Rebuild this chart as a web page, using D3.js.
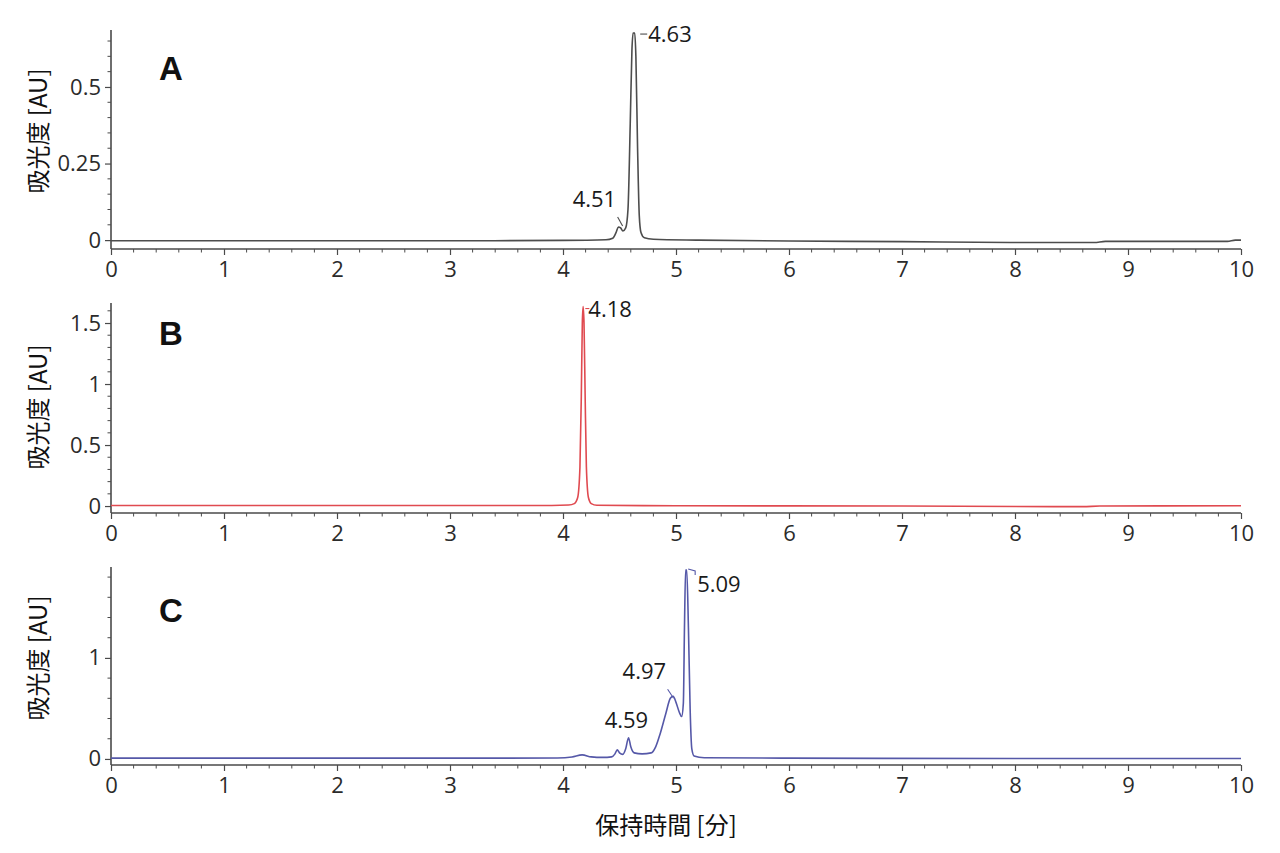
<!DOCTYPE html>
<html><head><meta charset="utf-8">
<script src="https://cdn.jsdelivr.net/npm/d3@7"></script>
<style>
html,body{margin:0;padding:0;background:#fff;}
svg{display:block;}
</style></head>
<body>
<svg id="chart" width="1280" height="853"></svg>
<script>
// ---- data (time in min, absorbance in AU) ----
const timeTicks = [0,1,2,3,4,5,6,7,8,9,10];

const traceA = [
  [0,-0.002],[1,-0.002],[2,-0.002],[3,-0.002],[4,-0.001],[4.38,0.001],[4.44,0.006],
  [4.47,0.025],[4.49,0.043],[4.51,0.04],[4.53,0.03],[4.555,0.04],[4.575,0.1],
  [4.595,0.38],[4.61,0.62],[4.62,0.676],[4.635,0.676],[4.645,0.6],[4.66,0.3],
  [4.675,0.08],[4.69,0.025],[4.72,0.008],[4.8,0.003],[5.2,0.0],[6,-0.003],[7,-0.005],
  [8,-0.008],[8.7,-0.008],[8.8,-0.004],[9.5,-0.004],[9.88,-0.004],[9.95,0.0],[10,0.0]
];
const traceB = [
  [0,0.004],[2,0.004],[3.9,0.005],[4.05,0.008],[4.1,0.02],[4.13,0.07],[4.15,0.32],
  [4.162,0.9],[4.171,1.5],[4.178,1.635],[4.186,1.5],[4.196,0.9],[4.207,0.32],
  [4.225,0.07],[4.25,0.02],[4.3,0.006],[5,0.003],[7,0.0],[8.6,-0.005],[8.75,0.0],
  [10,0.002]
];
const traceC = [
  [0,0.008],[2,0.008],[3.5,0.008],[3.95,0.01],[4.08,0.02],[4.17,0.04],[4.25,0.02],
  [4.35,0.015],[4.43,0.02],[4.46,0.05],[4.48,0.09],[4.5,0.06],[4.53,0.045],
  [4.555,0.1],[4.58,0.21],[4.6,0.12],[4.63,0.06],[4.7,0.05],[4.78,0.06],[4.82,0.12],
  [4.86,0.25],[4.91,0.45],[4.95,0.6],[4.975,0.62],[5.0,0.56],[5.03,0.46],[5.05,0.42],
  [5.065,0.55],[5.075,1.3],[5.085,1.87],[5.095,1.87],[5.11,1.3],[5.125,0.5],
  [5.14,0.1],[5.16,0.03],[5.25,0.012],[6,0.008],[8,0.005],[10,0.005]
];

const peakLabelsA = [{t:4.63,v:0.676,label:"4.63"},{t:4.51,v:0.043,label:"4.51"}];
const peakLabelsB = [{t:4.18,v:1.635,label:"4.18"}];
const peakLabelsC = [{t:5.09,v:1.87,label:"5.09"},{t:4.97,v:0.62,label:"4.97"},{t:4.59,v:0.21,label:"4.59"}];

const yTicksA = [0,0.25,0.5], yMinorA = 0.05;
const yTicksB = [0,0.5,1,1.5], yMinorB = 0.1;
const yTicksC = [0,1], yMinorC = 0.2;

const panelNames = ["A","B","C"];
const yTitle = "吸光度 [AU]";
const xTitle = "保持時間 [分]";

// ---- layout ----
const svg = d3.select("#chart");
const X0 = 111, X1 = 1241;
const x = d3.scaleLinear().domain([0,10]).range([X0,X1]);
const numFont = "'Open Sans', 'Noto Sans', sans-serif";
const cjkFont = "'Noto Sans CJK JP', 'Noto Sans', sans-serif";

const panels = [
  {name:"A", data:traceA, color:"#4d4d4d", top:30, bottom:249, dom:[-0.029,0.686], ticks:yTicksA, minor:yMinorA,
   fmt:d=>String(d), titleY:131, letterY:80, labels:peakLabelsA},
  {name:"B", data:traceB, color:"#e04a50", top:303, bottom:513, dom:[-0.057,1.664], ticks:yTicksB, minor:yMinorB,
   fmt:d=>String(d), titleY:407, letterY:345, labels:peakLabelsB},
  {name:"C", data:traceC, color:"#5558a8", top:567, bottom:765, dom:[-0.06,1.9], ticks:yTicksC, minor:yMinorC,
   fmt:d=>String(d), titleY:658, letterY:622, labels:peakLabelsC}
];

const axisColor = "#4a4a4a";
const textColor = "#2b2b2b";
const tickFontSize = "22px";

panels.forEach((p,i)=>{
  const y = d3.scaleLinear().domain(p.dom).range([p.bottom,p.top]);
  const g = svg.append("g");

  // minor y ticks
  const minorY = d3.range(0, p.dom[1]+1e-9, p.minor).filter(v=>!p.ticks.some(t=>Math.abs(t-v)<1e-6));
  g.selectAll(".ymin").data(minorY).enter().append("line")
    .attr("x1",X0-3.5).attr("x2",X0).attr("y1",d=>y(d)).attr("y2",d=>y(d))
    .attr("stroke",axisColor).attr("stroke-width",1);
  // minor x ticks
  const minorX = d3.range(0,10.0001,0.2).filter(v=>Math.abs(v-Math.round(v))>1e-6);
  g.selectAll(".xmin").data(minorX).enter().append("line")
    .attr("x1",d=>x(d)).attr("x2",d=>x(d)).attr("y1",p.bottom).attr("y2",p.bottom+3.5)
    .attr("stroke",axisColor).attr("stroke-width",1);

  // y axis
  const yAxis = d3.axisLeft(y).tickValues(p.ticks).tickFormat(p.fmt).tickSizeInner(6).tickSizeOuter(0).tickPadding(4);
  const ya = g.append("g").attr("transform",`translate(${X0},0)`).call(yAxis);
  ya.select(".domain").attr("d",`M0,${p.top}V${p.bottom}`).attr("stroke",axisColor).attr("stroke-width",1.6);
  ya.selectAll(".tick line").attr("stroke",axisColor).attr("stroke-width",1.2);
  ya.selectAll(".tick text").attr("fill",textColor).style("font-family",numFont).style("font-size",tickFontSize);

  // x axis
  const xAxis = d3.axisBottom(x).tickValues(timeTicks).tickFormat(d3.format("d")).tickSizeInner(6).tickSizeOuter(0).tickPadding(6);
  const xa = g.append("g").attr("transform",`translate(0,${p.bottom})`).call(xAxis);
  xa.select(".domain").attr("d",`M${X0},0H${X1}`).attr("stroke",axisColor).attr("stroke-width",1.6);
  xa.selectAll(".tick line").attr("stroke",axisColor).attr("stroke-width",1.2);
  xa.selectAll(".tick text").attr("fill",textColor).style("font-family",numFont).style("font-size",tickFontSize);

  // trace
  const line = d3.line().x(d=>x(d[0])).y(d=>y(d[1])).curve(d3.curveMonotoneX);
  g.append("path").datum(p.data).attr("d",line).attr("fill","none")
    .attr("stroke",p.color).attr("stroke-width",1.6).attr("stroke-linejoin","round");

  // panel letter
  g.append("text").attr("x",159).attr("y",p.letterY).text(p.name)
    .style("font-family","'Liberation Sans', Arial, sans-serif").style("font-weight","bold").style("font-size","33px").attr("fill","#111");

  // y title
  g.append("text").attr("transform",`translate(47,${p.titleY}) rotate(-90)`).attr("text-anchor","middle")
    .text(yTitle).style("font-family",cjkFont).style("font-size","24px").attr("fill","#111");

  // peak labels
  p.labels.forEach(L=>{
    const px = x(L.t), py = y(L.v);
    let lead, tx, ty, anchor="start";
    if (p.name==="A" && L.label==="4.63"){ lead=[[px+6,py+1],[px+13,py+1]]; tx=px+14; ty=py+9; }
    else if (p.name==="A"){ lead=[[px-3,py-10],[px+2,py-1]]; tx=px-48; ty=py-20; }
    else if (p.name==="B"){ lead=[[px+2,py+2],[px+6,py+2]]; tx=px+5; ty=py+10; }
    else if (L.label==="5.09"){ lead=[[px+2,py-1],[px+9,py+1],[px+9,py+5]]; tx=px+11; ty=py+22; }
    else if (L.label==="4.97"){ lead=[[px-5,py-7],[px+1,py+2]]; tx=px-50; ty=py-17; }
    else { lead=null; tx=px-25; ty=py-10; }
    if (lead) g.append("path").attr("d",d3.line()(lead)).attr("fill","none").attr("stroke",p.color).attr("stroke-width",1.1);
    g.append("text").attr("x",tx).attr("y",ty).attr("text-anchor",anchor).text(L.label)
      .style("font-family",numFont).style("font-size",tickFontSize).attr("fill","#1a1a1a");
  });
});

// x title
svg.append("text").attr("x",666).attr("y",834).attr("text-anchor","middle").text(xTitle)
  .style("font-family",cjkFont).style("font-size","24px").attr("fill","#111");
</script>
</body></html>
